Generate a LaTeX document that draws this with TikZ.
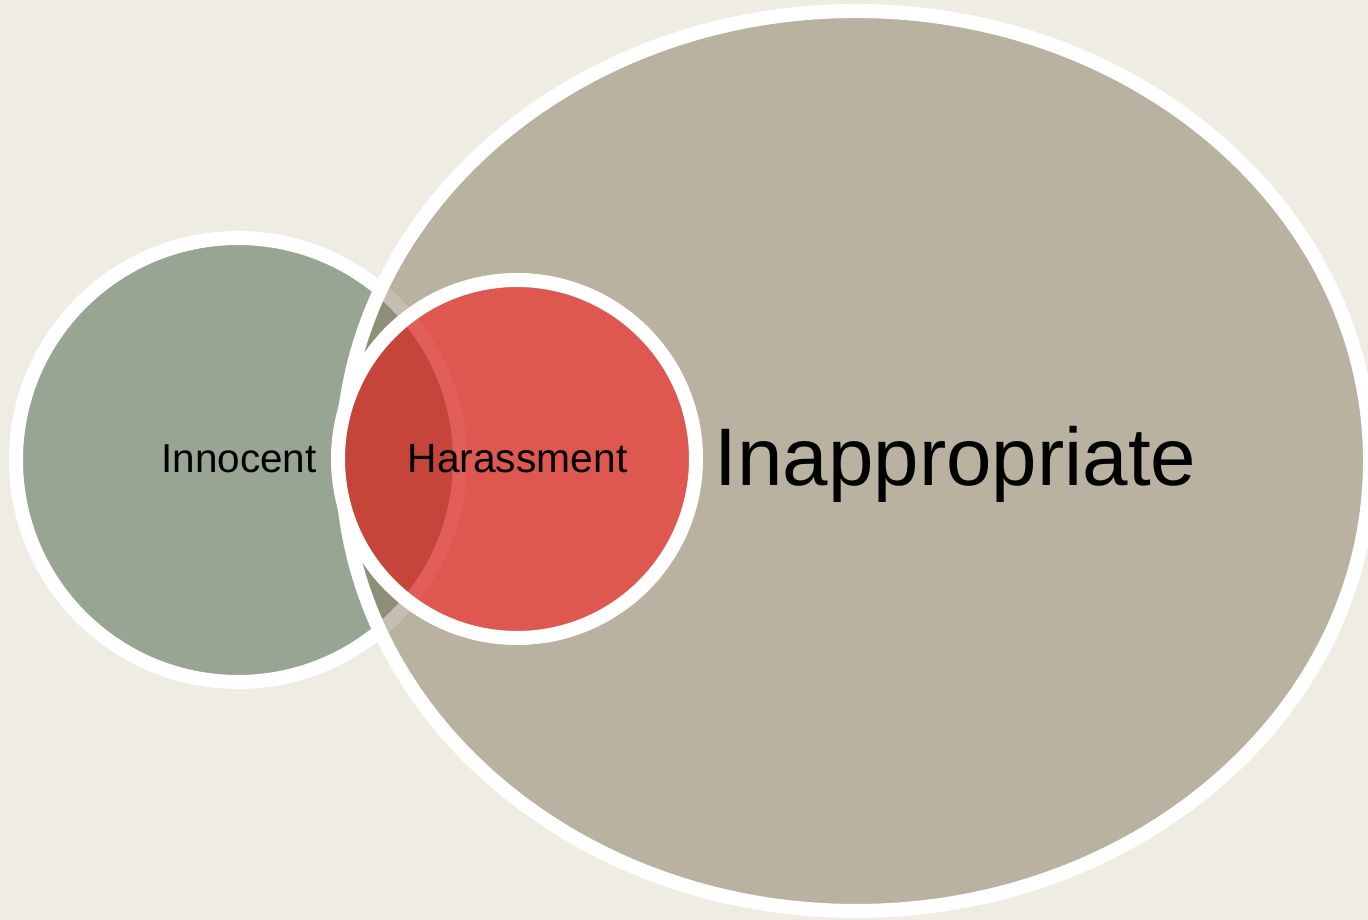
\documentclass[tikz,border=0pt]{standalone}
\usepackage{fontspec}
\setmainfont{Liberation Sans}
\usepackage{tikz}
\usetikzlibrary{positioning}

\definecolor{paper}{HTML}{EFECE4}
\definecolor{sage}{HTML}{99A593}
\definecolor{sand}{HTML}{B9B2A0}
\definecolor{olive}{HTML}{8F8E78}
\definecolor{paleline}{HTML}{C4BDB0}
\definecolor{coral}{HTML}{DF5850}
\definecolor{darkcoral}{HTML}{C5453B}
\definecolor{coralline}{HTML}{E25E5A}

\tikzset{
    ring/.style={draw=white, line width=0.28cm},
    label/.style={anchor=base, text=black, inner sep=0pt}
}

\begin{document}
\begin{tikzpicture}
    \fill[paper] (0,0) rectangle (27.36,18.4);
    \useasboundingbox (0,0) rectangle (27.36,18.4);
    \clip (0,0) rectangle (27.36,18.4);

    \coordinate (inno) at (4.76,9.2);
    \coordinate (inap) at (17.12,9.18);
    \coordinate (hara) at (10.34,9.22);

    % innocent circle
    \fill[sage] (inno) circle (4.44);
    \draw[ring] (inno) circle (4.44);

    % inappropriate ellipse, with the overlap shaded darker
    \fill[sand] (inap) ellipse (10.28 and 9.0);
    \begin{scope}
        \clip (inap) ellipse (10.28 and 9.0);
        \fill[olive] (inno) circle (4.44);
        \draw[paleline, line width=0.28cm] (inno) circle (4.44);
    \end{scope}
    \draw[ring] (inap) ellipse (10.28 and 9.0);

    % harassment circle on top
    \fill[coral] (hara) circle (3.58);
    \begin{scope}
        \clip (hara) circle (3.58);
        \fill[darkcoral] (inno) circle (4.44);
        \draw[coralline, line width=0.28cm] (inno) circle (4.44);
    \end{scope}
    \draw[ring] (hara) circle (3.58);

    \node (innotext) [label, font=\fontsize{23}{27}\selectfont] at (4.78,8.94) {Innocent};
    \node (haratext) [label, font=\fontsize{23.2}{27}\selectfont] at (10.35,8.94) {Harassment};
    \node (inaptext) [label, font=\fontsize{46.5}{55}\selectfont] at (19.11,8.68) {Inappropriate};
\end{tikzpicture}
\end{document}
